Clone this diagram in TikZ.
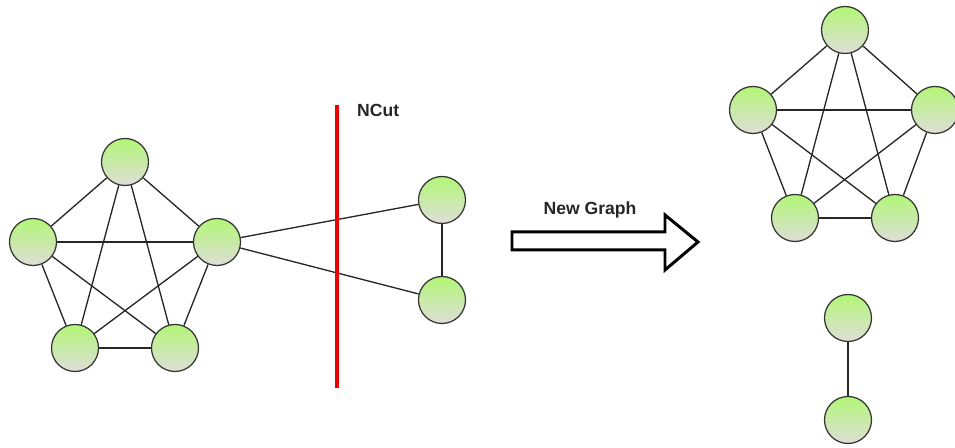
\documentclass[tikz,border=0pt]{standalone}
\usepackage{fontspec}
\setsansfont{Liberation Sans}
\usepackage{tikz}
\usetikzlibrary{positioning, calc}

\definecolor{vtop}{RGB}{178,246,118}
\definecolor{vbot}{RGB}{222,222,216}
\definecolor{cutred}{RGB}{240,0,0}

\begin{document}
\begin{tikzpicture}[every node/.style={font=\sffamily\bfseries\normalsize, text=black!85},
    vertex/.style={circle, draw=black!80, line width=0.7pt, minimum size=0.94cm, inner sep=0pt,
      top color=vtop, bottom color=vbot},
    edge/.style={draw=black!85, line width=0.75pt}]
      \useasboundingbox (0,0) rectangle (19.1,8.96);
      % first graph
      \node[vertex] (l1) at (2.50,5.72) {};
      \node[vertex] (l2) at (4.34,4.12) {};
      \node[vertex] (l3) at (3.50,2.00) {};
      \node[vertex] (l4) at (1.50,2.00) {};
      \node[vertex] (l5) at (0.66,4.12) {};
      \node[vertex] (pa) at (8.84,4.96) {};
      \node[vertex] (pb) at (8.84,2.96) {};
      % new graph
      \node[vertex] (r1) at (16.90,8.36) {};
      \node[vertex] (r2) at (18.70,6.76) {};
      \node[vertex] (r3) at (17.90,4.60) {};
      \node[vertex] (r4) at (15.90,4.60) {};
      \node[vertex] (r5) at (15.06,6.76) {};
      \node[vertex] (qa) at (16.96,2.60) {};
      \node[vertex] (qb) at (16.96,0.56) {};
      \foreach \a/\b in {1/2,1/3,1/4,1/5,2/3,2/4,2/5,3/4,3/5,4/5} {
        \path[edge] (l\a) -- (l\b);
        \path[edge] (r\a) -- (r\b);
      }
      \path[edge] (l2) -- (pa);
      \path[edge] (l2) -- (pb);
      \path[edge] (pa) -- (pb);
      \path[edge] (qa) -- (qb);
      % cut
      \coordinate (cuttop) at (6.74,6.86);
      \coordinate (cutbot) at (6.74,1.20);
      \draw[cutred, line width=2.2pt] (cuttop) -- (cutbot);
      \node[right=0.28cm of cuttop, anchor=west, yshift=-0.1cm] (ncut) {NCut};
      % big arrow
      \draw[line width=1.7pt, line join=miter, fill=white]
        (10.24,4.32) -- (13.30,4.32) -- (13.30,4.66) -- (13.96,4.12)
        -- (13.30,3.56) -- (13.30,3.96) -- (10.24,3.96) -- cycle;
      \node (newg) at (11.80,4.76) {New Graph};
    \end{tikzpicture}
\end{document}
